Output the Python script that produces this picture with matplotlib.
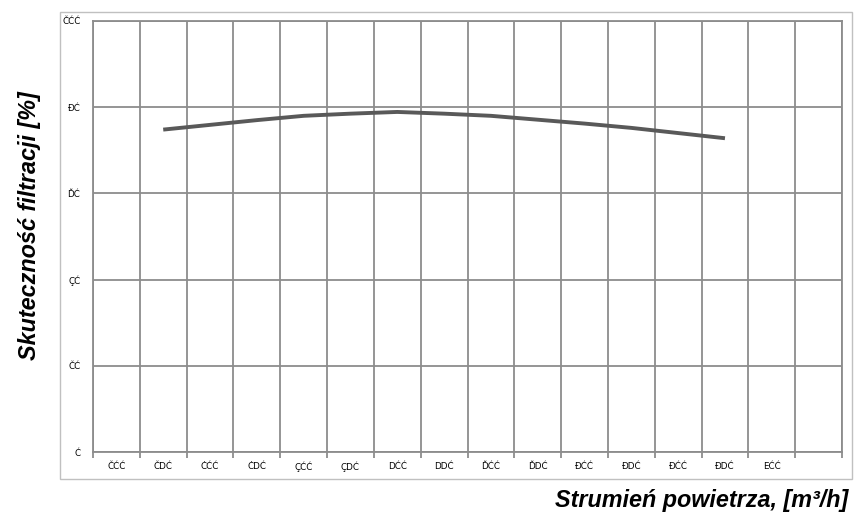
"""
Skutecznosc filtracji vs strumien powietrza (category line chart).
"""

import numpy as np
import matplotlib
matplotlib.use("Agg")
import matplotlib.pyplot as plt
from matplotlib.patches import Rectangle

# category labels as they appear on the chart (garbled font encoding)
x_labels = ["ČĆĆ", "ČDĆ", "ĊĆĆ", "ĊDĆ", "ÇĆĆ", "ÇDĆ", "DĆĆ", "DDĆ",
            "ĎĆĆ", "ĎDĆ", "ĐĆĆ", "ĐDĆ", "ĐĆĆ", "ĐDĆ", "EĆĆ"]
y_ticks = [0, 20, 40, 60, 80, 100]
y_labels = ["Ć", "ČĆ", "ÇĆ", "ĎĆ", "ĐĆ", "ČĆĆ"]

# series: categories 2..14 (index 1..13)
series_idx = [1, 2, 3, 4, 5, 6, 7, 8, 9, 10, 11, 12, 13]
efficiency = [74.8, 75.9, 77.0, 78.0, 78.5, 78.9, 78.5, 78.0, 77.1,
              76.2, 75.2, 74.0, 72.8]

n_cat = 16
grid_col = "#8c8c8c"

fig = plt.figure(figsize=(8.57, 5.18), dpi=100)
fig.patches.append(Rectangle((60 / 857, 39 / 518), 792 / 857, 467 / 518,
                             transform=fig.transFigure, fill=False,
                             edgecolor="#c0c0c0", linewidth=1.0))

ax = fig.add_axes([93 / 857, 66 / 518, 749 / 857, 431 / 518])
ax.set_xlim(0, n_cat)
ax.set_ylim(0, 100)

# grid at category boundaries and y ticks
ax.set_xticks(np.arange(0, n_cat + 1))
ax.set_xticklabels([])
ax.set_xticks(np.arange(len(x_labels)) + 0.5, minor=True)
ax.set_xticklabels(x_labels, minor=True, fontsize=6.3, family="DejaVu Sans")
ax.tick_params(axis="x", which="major", length=4, width=1.3,
               color=grid_col, direction="out")
ax.tick_params(axis="x", which="minor", length=0, pad=7)
ax.set_yticks(y_ticks)
ax.set_yticklabels(y_labels, fontsize=6.3, family="DejaVu Sans")
ax.tick_params(axis="y", length=0, pad=9)
ax.grid(True, which="major", color=grid_col, linewidth=1.3)
ax.set_axisbelow(True)
for s in ax.spines.values():
    s.set_color(grid_col)
    s.set_linewidth(1.3)

x = np.array(series_idx) + 0.5
ax.plot(x, efficiency, color="#595959", linewidth=2.8, solid_capstyle="butt")

fig.text(30 / 857, 1 - 226 / 518, "Skuteczność filtracji [%]", rotation=90,
         ha="center", va="center", fontsize=16.8, fontweight="bold",
         fontstyle="italic", family="Liberation Sans")
fig.text(848 / 857, 1 - 500 / 518, "Strumień powietrza, [m³/h]",
         ha="right", va="center", fontsize=16.8, fontweight="bold",
         fontstyle="italic", family="Liberation Sans")

fig.savefig("out.png", dpi=100)
